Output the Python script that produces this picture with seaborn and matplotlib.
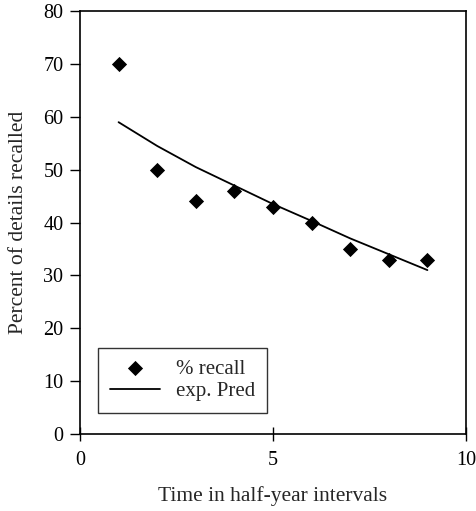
import matplotlib
matplotlib.use("Agg")
import matplotlib.pyplot as plt
import seaborn as sns
import pandas as pd

# data
intervals = [1, 2, 3, 4, 5, 6, 7, 8, 9]
recall_pct = [70, 50, 44, 46, 43, 40, 35, 33, 33]
exp_pred = [59, 54.5, 50.5, 47, 43.5, 40.3, 37, 34, 31]

df = pd.DataFrame({"t": intervals, "recall": recall_pct, "pred": exp_pred})

sns.set_style("ticks")
plt.rcParams["font.family"] = ["Liberation Serif", "DejaVu Serif"]
plt.rcParams["font.size"] = 15

fig = plt.figure(figsize=(4.76, 5.11), dpi=100)
ax = fig.add_axes([0.168, 0.151, 0.811, 0.827])

sns.scatterplot(data=df, x="t", y="recall", marker="D", s=60, color="black",
                edgecolor="black", linewidth=0, label="% recall", ax=ax, zorder=3)
sns.lineplot(data=df, x="t", y="pred", color="black", linewidth=1.3,
             label="exp. Pred", ax=ax)

ax.set_xlim(0, 10)
ax.set_ylim(0, 80)
ax.set_xticks([0, 5, 10])
ax.set_yticks(range(0, 81, 10))
ax.set_xlabel("Time in half-year intervals", fontsize=15.5, labelpad=12)
ax.set_ylabel("Percent of details recalled", fontsize=15.5, labelpad=11)

for sp in ax.spines.values():
    sp.set_visible(True)
    sp.set_color("black")
    sp.set_linewidth(1.2)

ax.tick_params(axis="y", direction="out", length=7, width=1, colors="black", labelsize=14.5, pad=5)
ax.tick_params(axis="x", direction="inout", length=10, width=1, colors="black", labelsize=14.5, pad=7)

leg = ax.legend(loc="lower left", bbox_to_anchor=(0.047, 0.05), borderaxespad=0,
                frameon=True, fancybox=False, edgecolor="black", fontsize=15,
                handlelength=2.4, handletextpad=0.8, borderpad=0.55,
                labelspacing=0.15)
leg.get_frame().set_linewidth(1.0)

fig.savefig("out.png", dpi=100)
